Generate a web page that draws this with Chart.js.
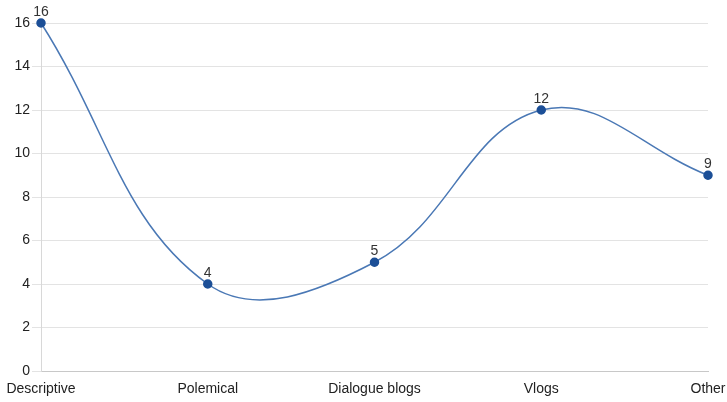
<!DOCTYPE html>
<html>
<head>
<meta charset="utf-8">
<script src="https://cdn.jsdelivr.net/npm/chart.js@4/dist/chart.umd.min.js"></script>
<style>
  html, body { margin: 0; padding: 0; background: #fff; }
  #wrap { width: 727px; height: 402px; position: relative; }
</style>
</head>
<body>
<div id="wrap"><canvas id="c"></canvas></div>
<script>
const categories = ['Descriptive', 'Polemical', 'Dialogue blogs', 'Vlogs', 'Other'];
const counts = [16, 4, 5, 12, 9];
const yTicks = [0, 2, 4, 6, 8, 10, 12, 14, 16];

// Writes each point's value just above its marker
const valueLabels = {
  id: 'valueLabels',
  afterDatasetsDraw(chart) {
    const ctx = chart.ctx;
    const meta = chart.getDatasetMeta(0);
    ctx.save();
    ctx.font = '14px "Liberation Sans", Arial, sans-serif';
    ctx.fillStyle = '#333';
    ctx.textAlign = 'center';
    ctx.textBaseline = 'bottom';
    meta.data.forEach((pt, i) => {
      ctx.fillText(String(counts[i]), pt.x, pt.y - 4);
    });
    ctx.restore();
  }
};

new Chart(document.getElementById('c'), {
  type: 'line',
  data: {
    labels: categories,
    datasets: [{
      data: counts,
      borderColor: '#4a78b5',
      borderWidth: 1.5,
      tension: 0.4,
      pointRadius: 4,
      pointBackgroundColor: '#1c4f97',
      pointBorderColor: '#1c4f97',
      fill: false,
      clip: false
    }]
  },
  options: {
    responsive: true,
    maintainAspectRatio: false,
    animation: false,
    layout: { padding: { top: 23, right: 19, left: 0, bottom: 0 } },
    plugins: { legend: { display: false }, tooltip: { enabled: false } },
    scales: {
      x: {
        offset: false,
        grid: { display: false, drawTicks: false },
        border: { color: '#c8c8c8', width: 1 },
        ticks: {
          color: '#222',
          font: { family: '"Liberation Sans", Arial, sans-serif', size: 14 },
          padding: 10,
          maxRotation: 0,
          autoSkip: false
        },
        afterFit(scale) {
          scale.height = 31;
          scale.paddingLeft = 0;
          scale.paddingRight = 0;
        }
      },
      y: {
        min: 0,
        max: 16,
        afterBuildTicks(scale) { scale.ticks = yTicks.map(v => ({ value: v })); },
        grid: { color: '#e3e3e3', tickLength: 9, tickColor: '#e3e3e3' },
        border: { color: '#d8d8d8', width: 1 },
        ticks: {
          color: '#222',
          font: { family: '"Liberation Sans", Arial, sans-serif', size: 14 },
          padding: 2
        },
        afterFit(scale) {
          scale.width = 41;
          scale.paddingTop = 0;
          scale.paddingBottom = 0;
        }
      }
    }
  },
  plugins: [valueLabels]
});
</script>
</body>
</html>
